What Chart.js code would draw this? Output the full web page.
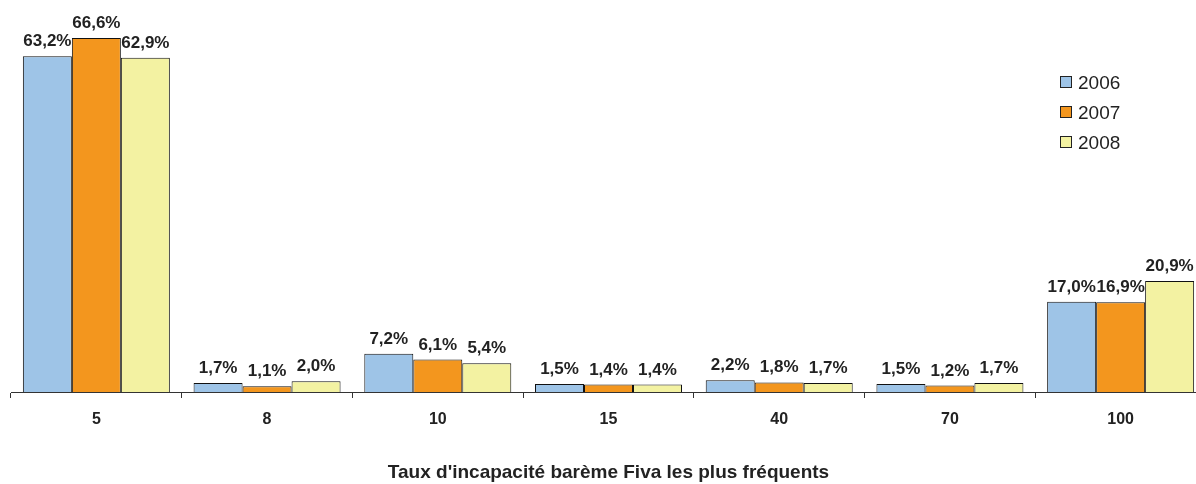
<!DOCTYPE html>
<html>
<head>
<meta charset="utf-8">
<script src="https://cdn.jsdelivr.net/npm/chart.js@4/dist/chart.umd.min.js"></script>
<style>
  html, body { margin: 0; padding: 0; background: #fff; overflow: hidden; }
  #wrap { position: relative; width: 1210px; height: 484px; }
  #legend { position: absolute; left: 1060px; top: 70px; font-family: "Liberation Sans", Arial, sans-serif; font-size: 19px; color: #222; }
  .item { height: 30px; line-height: 26px; white-space: nowrap; }
  .box { display: inline-block; width: 10px; height: 10px; border: 1px solid #222; margin-right: 6px; vertical-align: 1px; }
</style>
</head>
<body>
<div id="wrap">
  <canvas id="myc" width="1210" height="484"></canvas>
  <div id="legend"></div>
</div>
<script>
// categories (Fiva incapacity rates)
var categories = ["5", "8", "10", "15", "40", "70", "100"];
var seriesNames = ["2006", "2007", "2008"];
var vals2006 = [63.2, 1.7, 7.2, 1.5, 2.2, 1.5, 17.0];
var vals2007 = [66.6, 1.1, 6.1, 1.4, 1.8, 1.2, 16.9];
var vals2008 = [62.9, 2.0, 5.4, 1.4, 1.7, 1.7, 20.9];
var colors = ["rgb(158,196,231)", "rgb(243,150,30)", "rgb(243,242,162)"];
var axisTitle = "Taux d'incapacité barème Fiva les plus fréquents";

var allVals = [vals2006, vals2007, vals2008];

// build legend
var leg = document.getElementById("legend");
for (var i = 0; i < seriesNames.length; i++) {
  leg.innerHTML += `<div class="item"><span class="box" style="background:${colors[i]}"></span>${seriesNames[i]}</div>`;
}

// value labels over bars
var barLabels = {
  id: "barLabels",
  afterDatasetsDraw: function(chart) {
    var ctx = chart.ctx;
    ctx.save();
    ctx.font = "bold 17px 'Liberation Sans', Arial, sans-serif";
    ctx.fillStyle = "#222";
    ctx.textAlign = "center";
    ctx.textBaseline = "alphabetic";
    chart.data.datasets.forEach(function(ds, di) {
      var meta = chart.getDatasetMeta(di);
      meta.data.forEach(function(bar, j) {
        var txt = ds.data[j].toFixed(1).replace(".", ",") + "%";
        ctx.fillText(txt, bar.x, bar.y - 10);
      });
    });
    ctx.restore();
  }
};

var datasets = [];
for (var k = 0; k < seriesNames.length; k++) {
  datasets.push({
    label: seriesNames[k],
    data: allVals[k],
    backgroundColor: colors[k],
    borderColor: "#111",
    borderWidth: 1,
    categoryPercentage: 0.861,
    barPercentage: 1.0
  });
}

const ctx = document.getElementById("myc").getContext("2d");
var myChart = new Chart(ctx, {
  type: "bar",
  data: { labels: categories, datasets: datasets },
  options: {
    responsive: false,
    animation: false,
    layout: { padding: { left: 11, right: 4, top: 20, bottom: 0 } },
    plugins: {
      legend: { display: false },
      tooltip: { enabled: false }
    },
    scales: {
      y: { display: false, min: 0, max: 70 },
      x: {
        grid: { offset: true, drawOnChartArea: false, drawTicks: true, tickLength: 6, color: "#333" },
        border: { display: true, color: "#333", width: 1 },
        ticks: { color: "#222", font: { family: "'Liberation Sans', Arial, sans-serif", size: 16, weight: "bold" }, padding: 12 },
        title: { display: true, text: axisTitle, color: "#222", font: { family: "'Liberation Sans', Arial, sans-serif", size: 19, weight: "bold" }, padding: { top: 20, bottom: 0 } }
      }
    }
  },
  plugins: [barLabels]
});
</script>
</body>
</html>
